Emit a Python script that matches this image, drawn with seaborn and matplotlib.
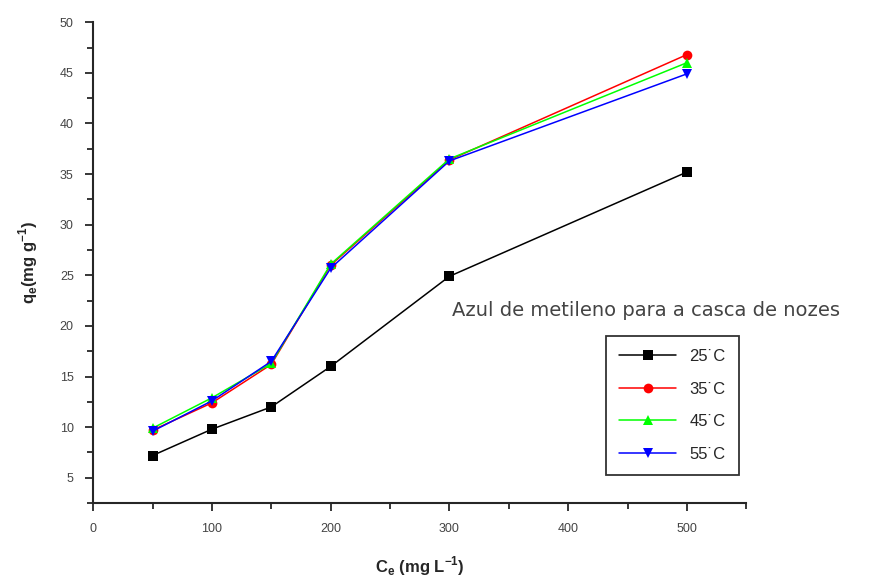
import numpy as np
import pandas as pd
import matplotlib
matplotlib.use("Agg")
import matplotlib.pyplot as plt
import seaborn as sns
from matplotlib.ticker import MultipleLocator

# data
ce = [50, 100, 150, 200, 300, 500]
q_25 = [7.2, 9.8, 12.0, 16.0, 24.9, 35.2]
q_35 = [9.7, 12.4, 16.2, 26.0, 36.4, 46.8]
q_45 = [9.9, 12.9, 16.3, 26.1, 36.5, 46.0]
q_55 = [9.6, 12.6, 16.5, 25.7, 36.3, 44.9]
labels = ["25\u02D9C", "35\u02D9C", "45\u02D9C", "55\u02D9C"]

dt = pd.DataFrame({
    "Ce": ce * 4,
    "qe": q_25 + q_35 + q_45 + q_55,
    "T": [lab for lab in labels for _ in ce],
})

sns.set_style("ticks")
plt.rcParams["font.family"] = ["Liberation Sans", "DejaVu Sans"]
plt.rcParams["mathtext.fontset"] = "custom"
plt.rcParams["mathtext.rm"] = "Liberation Sans"
plt.rcParams["mathtext.bf"] = "Liberation Sans:bold"

fig = plt.figure(figsize=(8.79, 5.85), dpi=100)
ax = fig.add_axes([0.106, 0.140, 0.743, 0.822])

colors = ["#000000", "#ff0000", "#00ff00", "#0000ff"]
markers = ["s", "o", "^", "v"]
sns.lineplot(data=dt, x="Ce", y="qe", hue="T", style="T",
             palette=dict(zip(labels, colors)),
             markers=dict(zip(labels, markers)), dashes=False,
             markersize=7, markeredgewidth=0, linewidth=1.1, ax=ax)

ax.set_xlim(0, 550)
ax.set_ylim(2.5, 50)
ax.xaxis.set_major_locator(MultipleLocator(100))
ax.xaxis.set_minor_locator(MultipleLocator(50))
ax.yaxis.set_minor_locator(MultipleLocator(2.5))
ax.set_yticks([5, 10, 15, 20, 25, 30, 35, 40, 45, 50])
ax.tick_params(which="major", length=6, width=1.3, labelsize=9, labelcolor="#444444", pad=8)
ax.tick_params(which="minor", length=4, width=1.3)
for s in ["top", "right"]:
    ax.spines[s].set_visible(False)
for s in ["left", "bottom"]:
    ax.spines[s].set_linewidth(1.5)

ax.set_xlabel("C$_\\mathbf{e}$ (mg L$^{\\mathbf{-1}}$)", fontsize=12, fontweight="bold", labelpad=14)
ax.set_ylabel("q$_\\mathbf{e}$(mg g$^{\\mathbf{-1}}$)", fontsize=12, fontweight="bold", labelpad=14)

fig.text(0.514, 0.47, "Azul de metileno para a casca de nozes", fontsize=14,
         family="DejaVu Sans", color="#444444", va="center")

leg = ax.legend(loc="upper left", bbox_to_anchor=(0.68, 0.44), bbox_transform=fig.transFigure,
                frameon=True, fancybox=False, edgecolor="black", fontsize=12,
                handlelength=3.4, labelspacing=1.05, borderpad=0.8, title=None)
leg.get_frame().set_linewidth(1.3)

plt.savefig("out.png", dpi=100)
